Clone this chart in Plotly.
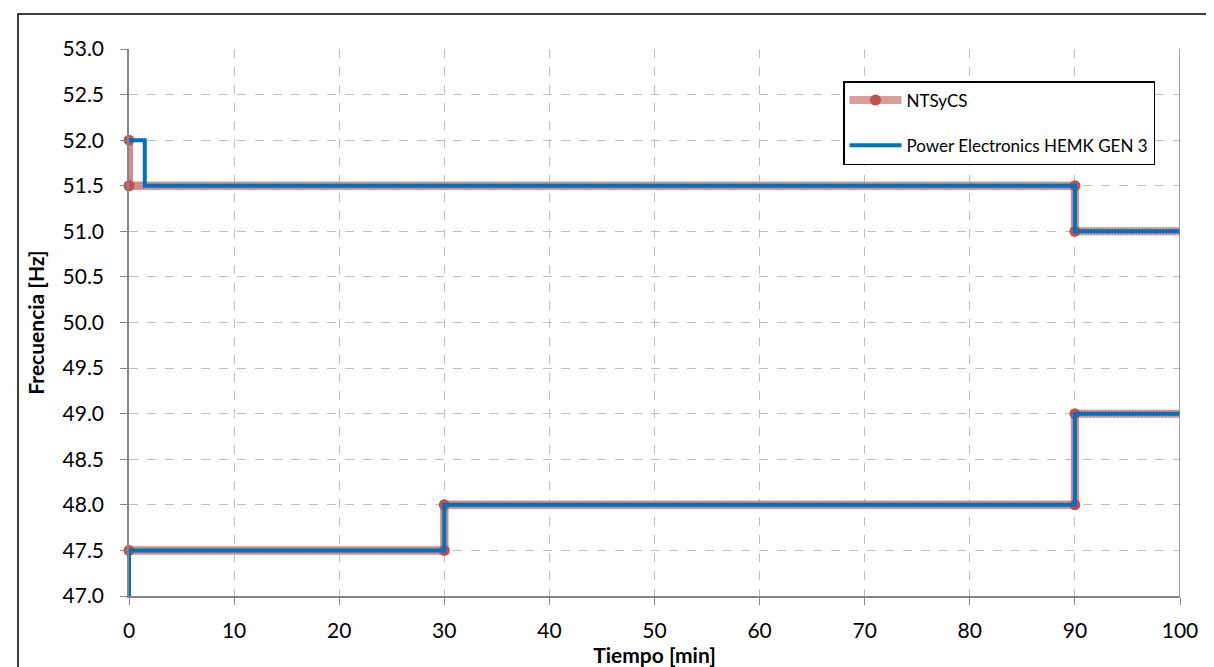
import plotly.graph_objects as go

# --- data ---
ntsycs_x = [0, 0, 90, 90, 100, None, 0, 30, 30, 90, 90, 100]
ntsycs_y = [52, 51.5, 51.5, 51, 51, None, 47.5, 47.5, 48, 48, 49, 49]
ntsycs_marker = [True, True, True, True, False, False, True, True, True, True, True, False]

hemk_x = [0, 1.5, 1.5, 90, 90, 100, None, 0, 0, 30, 30, 90, 90, 100]
hemk_y = [52, 52, 51.5, 51.5, 51, 51, None, 47, 47.5, 47.5, 48, 48, 49, 49]

y_ticks = [47.0, 47.5, 48.0, 48.5, 49.0, 49.5, 50.0, 50.5, 51.0, 51.5, 52.0, 52.5, 53.0]
x_ticks = [0, 10, 20, 30, 40, 50, 60, 70, 80, 90, 100]

W, H = 1214, 667
ML, MR, MT, MB = 121, 42, 41, 79
PW, PH = W - ML - MR, H - MT - MB

def px(xp):
    return (xp - ML) / PW

def py(yp):
    return (H - MB - yp) / PH

FONT = "Lato"
RED = "#C0504D"
BLUE = "#0070C0"
RED_BAND = "rgba(212,140,138,0.85)"

# marker-carrying subset of the NTSyCS path (end points at x=100 have no marker)
mk_x, mk_y = [], []
for xv, yv, m in zip(ntsycs_x, ntsycs_y, ntsycs_marker):
    if xv is None:
        mk_x.append(None); mk_y.append(None)
    elif m:
        mk_x.append(xv); mk_y.append(yv)

fig = go.Figure()
# full NTSyCS path (band)
fig.add_trace(go.Scatter(
    x=ntsycs_x, y=ntsycs_y, mode="lines", showlegend=False,
    line=dict(color=RED_BAND, width=8), cliponaxis=False, hoverinfo="skip",
))
fig.add_trace(go.Scatter(
    x=ntsycs_x, y=ntsycs_y, mode="lines", showlegend=False,
    line=dict(color="rgba(192,80,77,0.55)", width=8, dash="1px,2px"),
    cliponaxis=False, hoverinfo="skip",
))
# NTSyCS with markers (legend entry)
fig.add_trace(go.Scatter(
    x=mk_x, y=mk_y, name="NTSyCS", mode="lines+markers",
    line=dict(color=RED_BAND, width=8),
    marker=dict(color=RED, size=11),
    cliponaxis=False, legendgroup="a",
))
fig.add_trace(go.Scatter(
    x=hemk_x, y=hemk_y, name="Power Electronics HEMK GEN 3", mode="lines",
    line=dict(color=BLUE, width=4), cliponaxis=False, legendgroup="b",
))

fig.update_layout(
    width=W, height=H,
    margin=dict(l=ML, r=MR, t=MT, b=MB),
    paper_bgcolor="white", plot_bgcolor="white",
    font=dict(family=FONT, size=21, color="black"),
    showlegend=True,
    legend=dict(
        x=px(835), y=py(73), xanchor="left", yanchor="top",
        bordercolor="black", borderwidth=1.5, bgcolor="white",
        font=dict(family=FONT, size=17), itemwidth=52,
        tracegroupgap=20,
    ),
    xaxis=dict(
        range=[0, 100], tickvals=x_ticks, ticktext=[str(v) for v in x_ticks],
        showgrid=True, gridcolor="#BFBFBF", griddash="dash", gridwidth=1,
        showline=True, linecolor="#868686", linewidth=1.5, mirror=False,
        ticks="outside", ticklen=7, tickcolor="#868686",
        tickfont=dict(family=FONT, size=21), ticklabelstandoff=8,
        title=dict(text="<b>Tiempo [min]</b>", font=dict(family=FONT, size=21), standoff=4),
        zeroline=False,
    ),
    yaxis=dict(
        range=[47, 53], tickvals=y_ticks, ticktext=[f"{v:.1f}" for v in y_ticks],
        showgrid=True, gridcolor="#BFBFBF", griddash="dash", gridwidth=1,
        showline=True, linecolor="#868686", linewidth=1.5,
        ticks="outside", ticklen=7, tickcolor="#868686",
        tickfont=dict(family=FONT, size=21), ticklabelstandoff=12,
        title=dict(text="<b>Frecuencia [Hz]</b>", font=dict(family=FONT, size=21), standoff=12),
        zeroline=False,
    ),
    shapes=[
        dict(type="line", xref="x", yref="paper", x0=100, x1=100, y0=0, y1=1,
             line=dict(color="#868686", width=1.5)),
        dict(type="rect", xref="paper", yref="paper",
             x0=px(10), x1=px(1211), y0=py(6), y1=py(700),
             line=dict(color="black", width=1.5), layer="below"),
    ],
)

fig.write_html("out.html")
